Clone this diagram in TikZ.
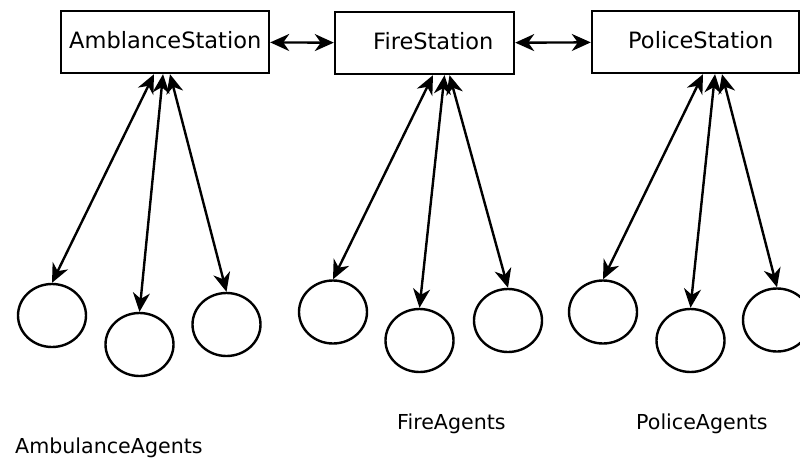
\documentclass[tikz,border=0pt]{standalone}
\usepackage{fontspec}
\setmainfont{DejaVu Sans}
\usetikzlibrary{arrows.meta,shapes.geometric}
\begin{document}
\begin{tikzpicture}[x=1pt,y=-1pt,
  stationbox/.style={draw,line width=2.4pt,minimum width=#1,minimum height=62pt,inner sep=0pt},
  agent/.style={draw,ellipse,line width=2.4pt,minimum width=68pt,minimum height=63pt,inner sep=0pt},
  lbl/.style={anchor=base west,inner sep=0pt,font=\fontsize{22.5}{26}\selectfont},
  grouplbl/.style={anchor=base west,inner sep=0pt,font=\fontsize{20.6}{24}\selectfont},
  link/.style={line width=2.4pt,{Stealth[length=19pt,width=17pt,inset=6pt]}-{Stealth[length=19pt,width=17pt,inset=6pt]}}
]
\useasboundingbox (0,0) rectangle (800,458);
\clip (0,0) rectangle (800,458);
\fill[white] (0,0) rectangle (800,458);
% stations
\node[stationbox=208pt] (amb) at (165,42) {};
\node[stationbox=179pt] (fire) at (424.5,43) {};
\node[stationbox=207pt] (pol) at (695.5,42) {};
\node[lbl] (ambt) at (69,48) {AmblanceStation};
\node[lbl] (firet) at (373,49) {FireStation};
\node[lbl] (polt) at (628,48) {PoliceStation};
% agents
\node[agent] (a1) at (52,315.5) {};
\node[agent] (a2) at (139.5,344.5) {};
\node[agent] (a3) at (226.5,324.5) {};
\node[agent] (f1) at (333,312) {};
\node[agent] (f2) at (419.5,340.5) {};
\node[agent] (f3) at (508,320.5) {};
\node[agent] (p1) at (603,312) {};
\node[agent] (p2) at (690.5,340.5) {};
\node[agent] (p3) at (777,320) {};
% labels
\node[grouplbl] (al) at (15,453) {AmbulanceAgents};
\node[grouplbl] (fl) at (397,429) {FireAgents};
\node[grouplbl] (pl) at (636,429) {PoliceAgents};
% station links
\draw[link] (amb) -- (fire);
\draw[link] (fire) -- (pol);
% agent links
\draw[link] (a1.north) -- ([xshift=-11pt]amb.south);
\draw[link] (a2.north) -- ([xshift=-2pt]amb.south);
\draw[link] (a3.north) -- ([xshift=5pt]amb.south);
\draw[link] (f1.north) -- ([xshift=8.5pt]fire.south);
\draw[link] (f2.north) -- ([xshift=20pt]fire.south);
\draw[link] (f3.north) -- ([xshift=25pt]fire.south);
\draw[link] (p1.north) -- ([xshift=7.5pt]pol.south);
\draw[link] (p2.north) -- ([xshift=19.5pt]pol.south);
\draw[link] (p3.north) -- ([xshift=26.5pt]pol.south);
\end{tikzpicture}
\end{document}
